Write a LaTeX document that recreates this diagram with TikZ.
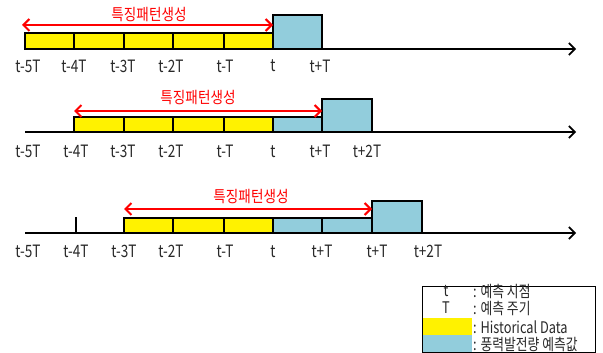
\documentclass[tikz,border=0pt]{standalone}
\usepackage{fontspec}
\usepackage{graphicx}
\setmainfont{Noto Sans CJK KR}
\usetikzlibrary{arrows.meta}
\definecolor{lblue}{RGB}{146,205,220}
\definecolor{txtc}{RGB}{40,40,40}
\newcommand{\nar}[1]{\scalebox{0.85}[1]{#1}}
\newcommand{\narr}[1]{\scalebox{0.8}[1]{#1}}
\begin{document}
\begin{tikzpicture}[x=1pt,y=-1pt,
  yel/.style={draw=black, line width=1.6pt, fill=yellow},
  blu/.style={draw=black, line width=1.6pt, fill=lblue},
  axisline/.style={draw=black, line width=1.6pt, -{Straight Barb[length=6pt,width=12pt,line width=1.6pt]}},
  redarr/.style={draw=red, line width=2pt, {Straight Barb[length=6pt,width=12pt,line width=2pt]}-{Straight Barb[length=6pt,width=12pt,line width=2pt]}},
  txt/.style={font=\fontsize{17}{17}\selectfont, inner sep=0pt, text=txtc},
  redlbl/.style={font=\fontsize{16}{16}\selectfont, inner sep=0pt, text=red},
  legtxt/.style={font=\fontsize{16}{16}\selectfont, inner sep=0pt, text=txtc, anchor=west}
]
\useasboundingbox (0,0) rectangle (603,353);

% ---------- Row 1 ----------
\coordinate (a1s) at (25,49); \coordinate (a1e) at (576,49);
\draw[axisline] (a1s) -- (a1e);
\foreach \a/\b in {25/74,74/124,124/173,173/224,224/273}
  \draw[yel] (\a,33) rectangle (\b,49);
\draw[blu] (273,15) rectangle (322,49);
\coordinate (h1a) at (22,25); \coordinate (h1b) at (273,25);
\draw[redarr] (h1a) -- (h1b);
\node[redlbl] (g1) at (149,14.5) {\nar{특징패턴생성}};
\node[txt] (l1a) at (28,66) {\narr{t-5T}};
\node[txt] (l1b) at (74,66) {\narr{t-4T}};
\node[txt] (l1c) at (123,66) {\narr{t-3T}};
\node[txt] (l1d) at (171,66) {\narr{t-2T}};
\node[txt] (l1e) at (225,66) {\narr{t-T}};
\node[txt] (l1f) at (273,66) {\narr{t}};
\node[txt] (l1g) at (320,66) {\narr{t+T}};

% ---------- Row 2 ----------
\coordinate (a2s) at (25,132); \coordinate (a2e) at (576,132);
\draw[axisline] (a2s) -- (a2e);
\foreach \a/\b in {74/124,124/173,173/224,224/273}
  \draw[yel] (\a,117) rectangle (\b,132);
\draw[blu] (273,117) rectangle (322,132);
\draw[blu] (322,99) rectangle (372,132);
\coordinate (h2a) at (74,111); \coordinate (h2b) at (322,111);
\draw[redarr] (h2a) -- (h2b);
\node[redlbl] (g2) at (198,98) {\nar{특징패턴생성}};
\node[txt] (l2a) at (28,151.5) {\narr{t-5T}};
\node[txt] (l2b) at (76,151.5) {\narr{t-4T}};
\node[txt] (l2c) at (123,151.5) {\narr{t-3T}};
\node[txt] (l2d) at (171,151.5) {\narr{t-2T}};
\node[txt] (l2e) at (225,151.5) {\narr{t-T}};
\node[txt] (l2f) at (273,151.5) {\narr{t}};
\node[txt] (l2g) at (320,151.5) {\narr{t+T}};
\node[txt] (l2h) at (367,151.5) {\narr{t+2T}};

% ---------- Row 3 ----------
\coordinate (a3s) at (25,233); \coordinate (a3e) at (576,233);
\draw[axisline] (a3s) -- (a3e);
\coordinate (k3a) at (76,217); \coordinate (k3b) at (76,233);
\draw[black, line width=1.6pt] (k3a) -- (k3b);
\foreach \a/\b in {124/173,173/224,224/273}
  \draw[yel] (\a,218) rectangle (\b,233);
\foreach \a/\b in {273/322,322/372}
  \draw[blu] (\a,218) rectangle (\b,233);
\draw[blu] (372,201) rectangle (422,233);
\coordinate (h3a) at (124,209); \coordinate (h3b) at (372,209);
\draw[redarr] (h3a) -- (h3b);
\node[redlbl] (g3) at (251,197) {\nar{특징패턴생성}};
\node[txt] (l3a) at (28,251.5) {\narr{t-5T}};
\node[txt] (l3b) at (76,251.5) {\narr{t-4T}};
\node[txt] (l3c) at (124,251.5) {\narr{t-3T}};
\node[txt] (l3d) at (171,251.5) {\narr{t-2T}};
\node[txt] (l3e) at (225,251.5) {\narr{t-T}};
\node[txt] (l3f) at (273,251.5) {\narr{t}};
\node[txt] (l3g) at (322,251.5) {\narr{t+T}};
\node[txt] (l3h) at (377,251.5) {\narr{t+T}};
\node[txt] (l3i) at (428,251.5) {\narr{t+2T}};

% ---------- Legend ----------
\fill[yellow] (422,318) rectangle (472,335);
\fill[lblue] (422,335) rectangle (472,352);
\draw[black, line width=0.8pt] (422,286) rectangle (595,352);
\node[txt, font=\fontsize{16}{16}\selectfont] (k1) at (446,291) {\narr{t}};
\node[txt, font=\fontsize{16}{16}\selectfont] (k2) at (446,308) {\narr{T}};
\node[legtxt] (d1) at (473,291) {\narr{: 예측 시점}};
\node[legtxt] (d2) at (473,308) {\narr{: 예측 주기}};
\node[legtxt] (d3) at (473,327) {\narr{: Historical Data}};
\node[legtxt] (d4) at (473,344) {\narr{: 풍력발전량 예측값}};
\end{tikzpicture}
\end{document}
